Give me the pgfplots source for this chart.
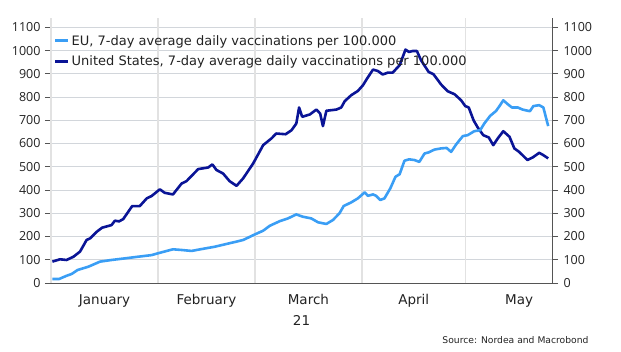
\documentclass[border=0pt]{standalone}
\usepackage{pgfplots}
\pgfplotsset{compat=1.18}
\usepackage{pgfplotstable}
\usepackage{fontspec}
\setmainfont{DejaVu Sans}
\newfontfamily\numfont{Open Sans}
\definecolor{eu}{HTML}{3A9EF5}
\definecolor{us}{HTML}{0A1496}
\definecolor{gridc}{HTML}{D2D6DB}
\definecolor{vgrid}{HTML}{E2E2E2}
\definecolor{axc}{HTML}{555555}
\definecolor{txt}{HTML}{222222}
\pgfplotstableread{
x y
0.4 92
2.6 102
4.5 99
6.5 113
8.4 135
10.3 185
11.3 192
13.2 220
14.8 238
17.5 249
18.5 268
19.7 265
20.9 275
23.5 331
25.7 331
27.7 364
29.1 374
31.5 403
32.9 388
35.3 381
37.8 428
39.2 438
40.7 461
42.6 490
45.5 497
46.7 510
47.9 486
49.8 471
51.7 438
53.7 418
55.6 450
58.5 514
61.4 593
63.8 622
65.2 643
67.9 640
69.6 657
71 686
71.8 755
72.7 715
74.9 725
76.8 746
77.9 729
78.7 675
79.7 741
82.6 746
84 755
85 782
86.9 808
88.8 826
90.3 851
91.5 880
93.2 918
94.6 912
96 897
97.5 905
98.9 905
100.9 937
102.6 1004
103.6 994
104.7 998
105.9 998
107.1 958
109.3 908
110.7 898
112.9 854
114.8 825
116.8 812
118.7 786
119.9 761
120.9 755
122.3 700
123.5 669
125.1 636
126.7 626
128 593
129.3 622
130.9 653
132.7 629
134.1 579
135.5 564
137.9 529
139.4 540
141.3 560
142.5 550
143.9 536
}\us
\pgfplotstableread{
x y
0.4 17
2.3 17
4.5 31
6 39
7.7 56
10.8 70
14.2 92
17.5 99
21.4 106
25.2 113
29.1 120
31.5 130
35.3 145
37.8 142
40.7 138
43.6 146
47.4 156
50.8 168
53.7 178
55.6 185
59 209
61.4 225
63.3 246
66.2 266
68.6 278
71 295
72.9 285
75.3 278
77.3 261
79.7 254
81.6 271
83.5 300
84.7 331
86.9 347
88.8 364
90.8 390
91.7 375
93.2 381
94.1 375
95.3 357
96.5 364
98.2 407
99.7 457
100.9 468
102.3 526
103.6 532
105.2 529
106.6 521
108.1 557
109.3 562
111 574
112.9 579
114.5 581
115.8 564
117.3 597
119.2 632
120.6 636
122.5 653
124.2 657
125.4 686
127.1 719
128.8 740
129.8 761
130.9 786
132.2 769
133.4 755
135.1 755
136.5 746
138.6 739
139.6 761
141.3 765
142.5 755
143.9 675
}\eu
\begin{document}
\begin{tikzpicture}
\useasboundingbox (0,0) rectangle (621pt,351pt);
\begin{axis}[
  at={(51pt,68pt)}, anchor=south west,
  scale only axis, width=501pt, height=265pt,
  xmin=0, xmax=145, ymin=0, ymax=1140,
  clip=false,
  axis x line*=bottom, axis y line*=left,
  axis line style={axc, line width=1pt, -},
  ytick={0,100,...,1100},
  xtick={15.5,45,74.5,105,135.5},
  xticklabels={January,February,March,April,May},
  major x tick style={draw=none},
  extra x ticks={0,31,59,90,120},
  extra x tick labels={},
  extra x tick style={grid=major, major grid style={vgrid, line width=1.3pt}, tick style={axc, line width=1pt}, major tick length=5pt},
  ymajorgrids, major grid style={gridc, line width=1pt},
  tick align=outside, major tick length=6pt,
  ytick style={axc, line width=1pt},
  yticklabel style={font=\numfont\fontsize{12.5}{14}\selectfont, text=txt, xshift=-1pt},
  xticklabel style={font=\fontsize{13.5}{15}\selectfont, text=txt, yshift=-2pt},
  /pgf/number format/assume math mode=true,
  /pgf/number format/1000 sep={},
  legend style={at={(0,1)}, anchor=north west, draw=none, fill=none,
    font=\fontsize{13}{15}\selectfont, text=txt, xshift=1.5pt, yshift=-14pt,
    row sep=5pt, inner sep=1pt},
  legend cell align=left,
  reverse legend,
  legend image code/.code={\draw[#1, line width=3pt] (0pt,0pt) -- (13pt,0pt);},
  line join=round,
]
\addplot[us, line width=2.6pt] table[x=x,y=y] {\us};
\addlegendentry{United States, 7-day average daily vaccinations per 100.000}
\addplot[eu, line width=2.6pt] table[x=x,y=y] {\eu};
\addlegendentry{EU, 7-day average daily vaccinations per 100.000}
\node[font=\fontsize{13.5}{15}\selectfont, text=txt, color=txt] at (axis cs:72.5,0) [yshift=-37pt] {\textcolor{txt}{21}};
\end{axis}
\begin{axis}[
  at={(51pt,68pt)}, anchor=south west,
  scale only axis, width=501pt, height=265pt,
  xmin=0, xmax=145, ymin=0, ymax=1140,
  axis x line=none, axis y line*=right,
  axis line style={axc, line width=1pt, -},
  ytick={0,100,...,1100},
  tick align=outside, major tick length=6pt,
  ytick style={axc, line width=1pt},
  yticklabel style={font=\numfont\fontsize{12.5}{14}\selectfont, text=txt, xshift=2pt},
  /pgf/number format/assume math mode=true,
  /pgf/number format/1000 sep={},
]
\end{axis}
\node[anchor=base east, font=\fontsize{9.2}{11}\selectfont, text=txt] at (592pt,8pt) {Source: Nordea and Macrobond};
\end{tikzpicture}
\end{document}
